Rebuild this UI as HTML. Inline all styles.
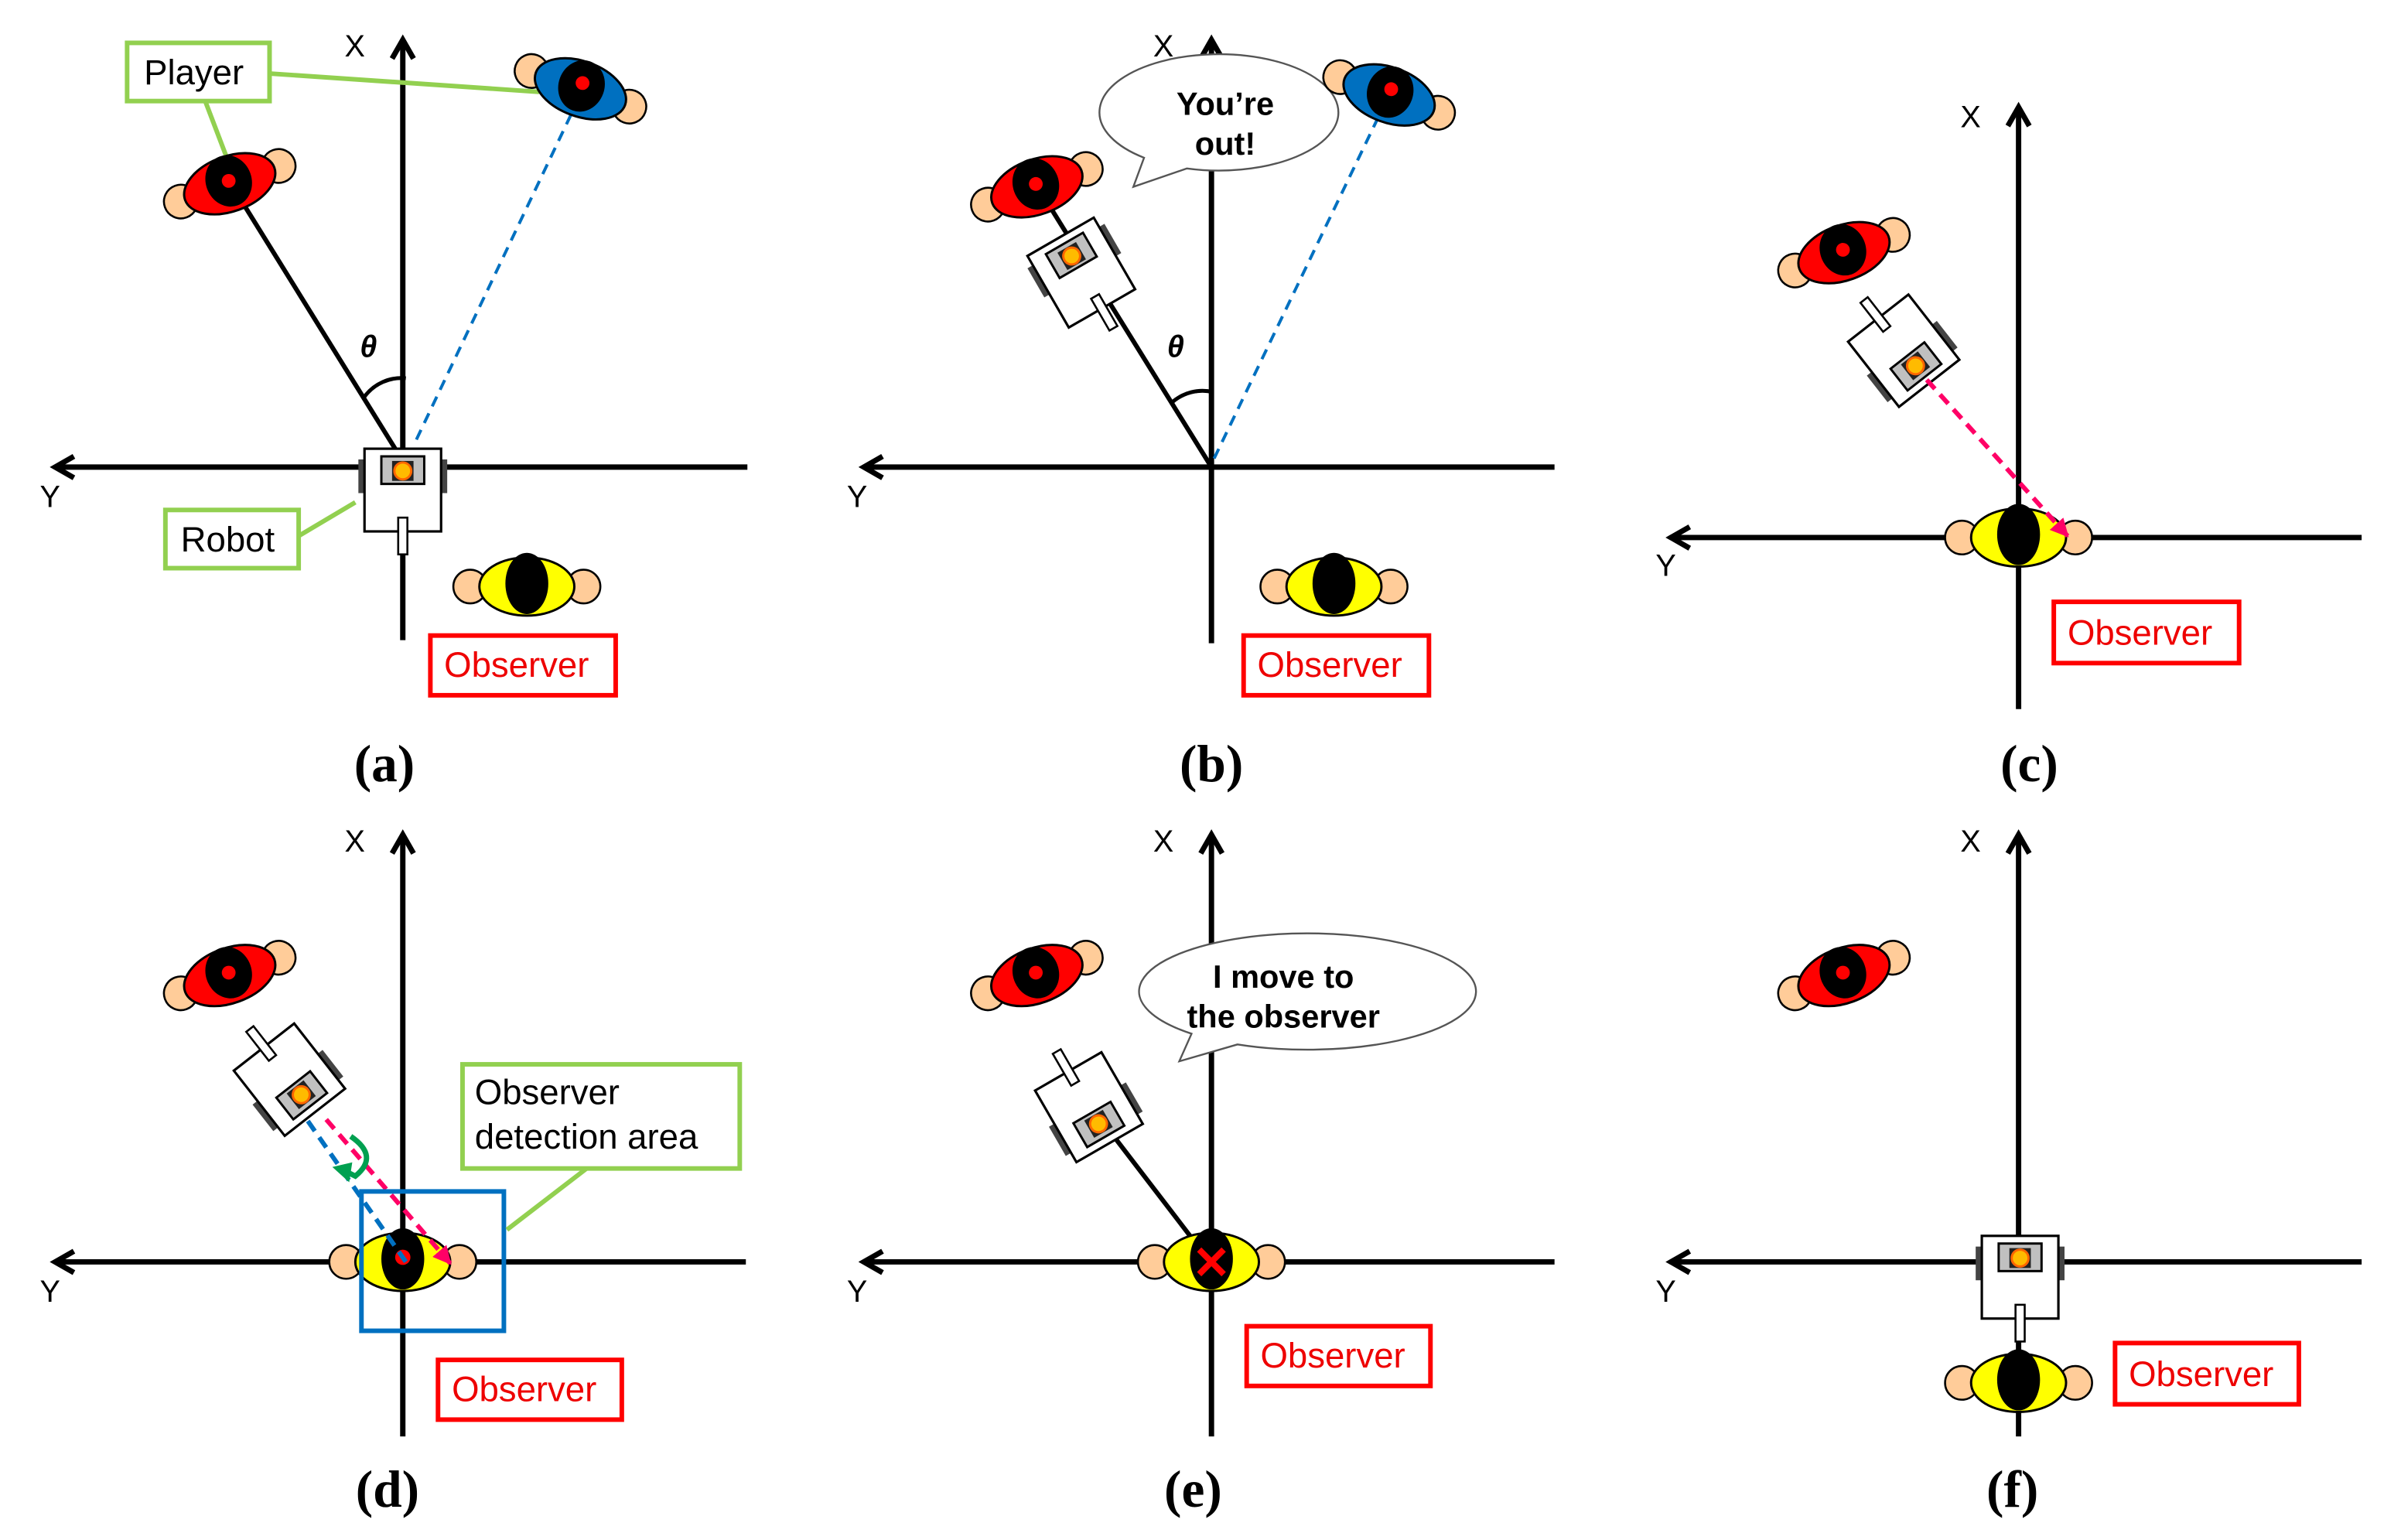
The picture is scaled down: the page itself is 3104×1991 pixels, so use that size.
<!DOCTYPE html>
<html><head><meta charset="utf-8"><style>
html,body{margin:0;padding:0;background:#fff;}
svg{display:block}
text{font-family:"Liberation Sans",sans-serif}
.cap{font-family:"Liberation Serif",serif;font-weight:bold;font-size:34px}
.ax{font-size:20px}
.obs{font-size:23px;fill:#e00}
.lbl{font-size:23px;fill:#000}
.bub{font-size:21px;font-weight:bold}
</style></head><body>
<svg width="3104" height="1991" viewBox="0 0 1567.7 1005.6" preserveAspectRatio="none" xmlns="http://www.w3.org/2000/svg">
<defs>
<marker id="ah" viewBox="0 0 10 10" refX="8" refY="5" markerWidth="5" markerHeight="5" orient="auto-start-reverse">
<path d="M1,1 L8,5 L1,9" fill="none" stroke="#000" stroke-width="2"/></marker>
<marker id="pk" viewBox="0 0 10 10" refX="9" refY="5" markerWidth="4" markerHeight="4" orient="auto">
<path d="M0,0 L10,5 L0,10z" fill="#f06"/></marker>
<g id="robot">
<rect x="-29" y="-20" width="5" height="22" fill="#444"/>
<rect x="24" y="-20" width="5" height="22" fill="#444"/>
<rect x="-25" y="-27" width="50" height="54" fill="#fff" stroke="#000" stroke-width="1.6"/>
<rect x="-14" y="-22" width="28" height="18" fill="#c0c0c0" stroke="#000" stroke-width="1.5"/>
<rect x="-7" y="-19" width="14" height="13" fill="#222"/>
<circle cx="0" cy="-12.5" r="5.5" fill="#fb0" stroke="#f60" stroke-width="1.5"/>
<rect x="-3" y="18" width="6" height="24" fill="#fff" stroke="#000" stroke-width="1.3"/>
</g>
<g id="obsv">
<circle cx="-37" cy="0" r="11" fill="#fc9" stroke="#000" stroke-width="1.3"/>
<circle cx="37" cy="0" r="11" fill="#fc9" stroke="#000" stroke-width="1.3"/>
<ellipse cx="0" cy="0" rx="31" ry="19" fill="#ff0" stroke="#000" stroke-width="1.5"/>
<ellipse cx="0" cy="-2" rx="14" ry="20" fill="#000"/>
</g>
<g id="ears">
<circle cx="-34" cy="0" r="11" fill="#fc9" stroke="#000" stroke-width="1.3"/>
<circle cx="34" cy="0" r="11" fill="#fc9" stroke="#000" stroke-width="1.3"/>
</g>
<g id="red">
<use href="#ears"/>
<ellipse cx="0" cy="0" rx="31" ry="18" fill="#f00" stroke="#000" stroke-width="1.5"/>
<ellipse cx="0" cy="-2" rx="15" ry="17" fill="#000"/>
<circle cx="0" cy="-2" r="4.5" fill="#f00"/>
</g>
<g id="blue">
<use href="#ears"/>
<ellipse cx="0" cy="0" rx="31" ry="18" fill="#0070c0" stroke="#000" stroke-width="1.5"/>
<ellipse cx="0" cy="-2" rx="15" ry="17" fill="#000"/>
<circle cx="0" cy="-4" r="4.5" fill="#f00"/>
</g>
</defs>

<!-- ===== (a) ===== -->
<g stroke="#000" stroke-width="3.5" fill="none">
<line x1="263" y1="418" x2="263" y2="26" marker-end="url(#ah)"/>
<line x1="488" y1="305" x2="36" y2="305" marker-end="url(#ah)"/>
</g>
<text x="225" y="37" class="ax">X</text><text x="26" y="331" class="ax">Y</text>
<line x1="176" y1="48" x2="352" y2="60" stroke="#92d050" stroke-width="3"/>
<line x1="134" y1="66" x2="150" y2="108" stroke="#92d050" stroke-width="3"/>
<line x1="152" y1="122" x2="258" y2="293" stroke="#000" stroke-width="3"/>
<line x1="378" y1="64" x2="270" y2="291" stroke="#0070c0" stroke-width="2" stroke-dasharray="7,5"/>
<path d="M238,259 A30,30 0 0 1 265,247" fill="none" stroke="#000" stroke-width="2.5"/>
<text x="235" y="233" font-family="Liberation Serif" font-style="italic" font-weight="bold" font-size="20">θ</text>
<use href="#red" transform="translate(150,120) rotate(-20)"/>
<use href="#blue" transform="translate(379,58) rotate(20)"/>
<use href="#robot" transform="translate(263,320)"/>
<rect x="83" y="28" width="93" height="38" fill="#fff" stroke="#92d050" stroke-width="3"/>
<text x="94" y="55" class="lbl">Player</text>
<line x1="195" y1="350" x2="232" y2="328" stroke="#92d050" stroke-width="3"/>
<rect x="108" y="333" width="87" height="38" fill="#fff" stroke="#92d050" stroke-width="3"/>
<text x="118" y="360" class="lbl">Robot</text>
<use href="#obsv" transform="translate(344,383)"/>
<rect x="281" y="415" width="121" height="39" fill="#fff" stroke="#f00" stroke-width="3"/>
<text x="290" y="442" class="obs">Observer</text>
<text x="251" y="510" class="cap" text-anchor="middle">(a)</text>

<!-- ===== (b) ===== -->
<g stroke="#000" stroke-width="3.5" fill="none">
<line x1="791" y1="420" x2="791" y2="26" marker-end="url(#ah)"/>
<line x1="1015" y1="305" x2="564" y2="305" marker-end="url(#ah)"/>
</g>
<text x="753" y="37" class="ax">X</text><text x="553" y="331" class="ax">Y</text>
<line x1="680" y1="126" x2="791" y2="305" stroke="#000" stroke-width="3"/>
<line x1="905" y1="66" x2="791" y2="303" stroke="#0070c0" stroke-width="2" stroke-dasharray="7,5"/>
<path d="M765,263 A30,30 0 0 1 792,256" fill="none" stroke="#000" stroke-width="2.5"/>
<text x="762" y="233" font-family="Liberation Serif" font-style="italic" font-weight="bold" font-size="20">θ</text>
<path d="M775,110 L740,122 L747,103 A78,38 0 1 1 775,110 Z" fill="#fff" stroke="#555" stroke-width="1.2"/>
<text x="800" y="75" class="bub" text-anchor="middle">You’re</text>
<text x="800" y="101" class="bub" text-anchor="middle">out!</text>
<use href="#red" transform="translate(677,122) rotate(-20)"/>
<use href="#blue" transform="translate(907,62) rotate(20)"/>
<use href="#robot" transform="translate(706,178) rotate(-30)"/>
<use href="#obsv" transform="translate(871,383)"/>
<rect x="812" y="415" width="121" height="39" fill="#fff" stroke="#f00" stroke-width="3"/>
<text x="821" y="442" class="obs">Observer</text>
<text x="791" y="510" class="cap" text-anchor="middle">(b)</text>

<!-- ===== (c) ===== -->
<g stroke="#000" stroke-width="3.5" fill="none">
<line x1="1318" y1="463" x2="1318" y2="70" marker-end="url(#ah)"/>
<line x1="1542" y1="351" x2="1091" y2="351" marker-end="url(#ah)"/>
</g>
<text x="1280" y="83" class="ax">X</text><text x="1081" y="376" class="ax">Y</text>
<use href="#red" transform="translate(1204,165) rotate(-20)"/>
<use href="#robot" transform="translate(1243,229) rotate(142)"/>
<use href="#obsv" transform="translate(1318,351)"/>
<line x1="1258" y1="248" x2="1350" y2="350" stroke="#f06" stroke-width="3" stroke-dasharray="8,5" marker-end="url(#pk)"/>
<rect x="1341" y="393" width="121" height="40" fill="#fff" stroke="#f00" stroke-width="3"/>
<text x="1350" y="421" class="obs">Observer</text>
<text x="1325" y="510" class="cap" text-anchor="middle">(c)</text>

<!-- ===== (d) ===== -->
<g stroke="#000" stroke-width="3.5" fill="none">
<line x1="263" y1="938" x2="263" y2="545" marker-end="url(#ah)"/>
<line x1="487" y1="824" x2="36" y2="824" marker-end="url(#ah)"/>
</g>
<text x="225" y="556" class="ax">X</text><text x="26" y="850" class="ax">Y</text>
<use href="#red" transform="translate(150,637) rotate(-20)"/>
<use href="#robot" transform="translate(189,705) rotate(142)"/>
<use href="#obsv" transform="translate(263,824)"/>
<circle cx="263" cy="821" r="5" fill="#f00"/>
<line x1="201" y1="732" x2="265" y2="824" stroke="#0070c0" stroke-width="3" stroke-dasharray="8,5"/>
<line x1="213" y1="731" x2="294" y2="825" stroke="#f06" stroke-width="3" stroke-dasharray="8,5" marker-end="url(#pk)"/>
<path d="M229,742 Q248,755 232,768 L226,765" fill="none" stroke="#00a050" stroke-width="3.5"/>
<path d="M217,762 L230,759 L228,772 Z" fill="#00a050"/>
<rect x="236" y="778" width="93" height="91" fill="none" stroke="#0070c0" stroke-width="3"/>
<line x1="383" y1="763" x2="331" y2="803" stroke="#92d050" stroke-width="3"/>
<rect x="302" y="695" width="181" height="68" fill="#fff" stroke="#92d050" stroke-width="3"/>
<text x="310" y="721" class="lbl">Observer</text>
<text x="310" y="750" class="lbl">detection area</text>
<rect x="286" y="888" width="120" height="39" fill="#fff" stroke="#f00" stroke-width="3"/>
<text x="295" y="915" class="obs">Observer</text>
<text x="253" y="984" class="cap" text-anchor="middle">(d)</text>

<!-- ===== (e) ===== -->
<g stroke="#000" stroke-width="3.5" fill="none">
<line x1="791" y1="938" x2="791" y2="545" marker-end="url(#ah)"/>
<line x1="1015" y1="824" x2="564" y2="824" marker-end="url(#ah)"/>
</g>
<text x="753" y="556" class="ax">X</text><text x="553" y="850" class="ax">Y</text>
<path d="M808,682 L770,693 L778,675 A110,38 0 1 1 808,682 Z" fill="#fff" stroke="#555" stroke-width="1.2"/>
<text x="838" y="645" class="bub" text-anchor="middle">I move to</text>
<text x="838" y="671" class="bub" text-anchor="middle">the observer</text>
<use href="#red" transform="translate(677,637) rotate(-20)"/>
<line x1="718" y1="730" x2="787" y2="820" stroke="#000" stroke-width="3"/>
<use href="#robot" transform="translate(711,723) rotate(150)"/>
<use href="#obsv" transform="translate(791,824)"/>
<path d="M783,816 L799,832 M799,816 L783,832" stroke="#f00" stroke-width="4"/>
<rect x="814" y="866" width="120" height="39" fill="#fff" stroke="#f00" stroke-width="3"/>
<text x="823" y="893" class="obs">Observer</text>
<text x="779" y="984" class="cap" text-anchor="middle">(e)</text>

<!-- ===== (f) ===== -->
<g stroke="#000" stroke-width="3.5" fill="none">
<line x1="1318" y1="938" x2="1318" y2="545" marker-end="url(#ah)"/>
<line x1="1542" y1="824" x2="1091" y2="824" marker-end="url(#ah)"/>
</g>
<text x="1280" y="556" class="ax">X</text><text x="1081" y="850" class="ax">Y</text>
<use href="#red" transform="translate(1204,637) rotate(-20)"/>
<use href="#robot" transform="translate(1319,834)"/>
<use href="#obsv" transform="translate(1318,903)"/>
<rect x="1381" y="877" width="120" height="40" fill="#fff" stroke="#f00" stroke-width="3"/>
<text x="1390" y="905" class="obs">Observer</text>
<text x="1314" y="984" class="cap" text-anchor="middle">(f)</text>
</svg>
</body></html>
